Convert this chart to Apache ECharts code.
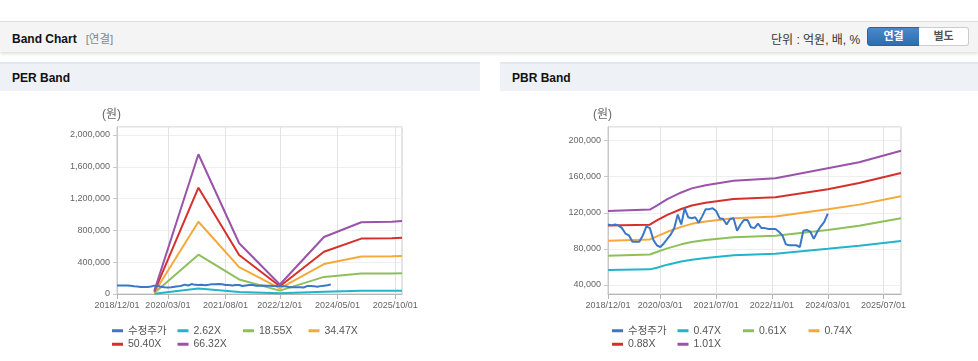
<!DOCTYPE html>
<html><head><meta charset="utf-8">
<script src="https://cdn.jsdelivr.net/npm/echarts@6/dist/echarts.min.js"></script>
<style>
html,body{margin:0;padding:0;width:978px;height:361px;overflow:hidden;background:#fff;font-family:Arial,'Liberation Sans','Noto Sans CJK KR',sans-serif;}
#hdr{position:absolute;left:0;top:21px;width:978px;height:30px;background:#f4f4f4;border-top:1px solid #dcdcdc;box-shadow:0 2px 3px rgba(0,0,0,0.13);}
#hdr .t{position:absolute;left:12px;top:8px;font-size:12px;font-weight:bold;color:#111;}
#hdr .t span{font-weight:normal;color:#7d8794;font-size:11.5px;margin-left:9px;}
#hdr .u{position:absolute;left:771px;top:8px;font-size:12px;color:#333;}
.btn{position:absolute;top:5px;height:17px;line-height:17px;font-size:11px;font-weight:bold;text-align:center;}
#b1{left:867px;width:51px;background:linear-gradient(#4a88cc,#2f6db2);color:#fff;border:1px solid #2a62a0;border-radius:3px 0 0 3px;}
#b2{left:919px;width:49px;background:#fff;color:#555;border:1px solid #ccc;border-left:none;border-radius:0 3px 3px 0;}
.sec{position:absolute;top:62px;height:27px;background:#eef1f6;border-top:2px solid #e4e7ec;}
.sec span{position:absolute;left:12px;top:7px;font-size:12px;font-weight:bold;color:#111;}
#chart{position:absolute;left:0;top:0;width:978px;height:361px;}
</style></head>
<body>
<div id="hdr"><div class="t">Band Chart<span>[연결]</span></div><div class="u">단위 : 억원, 배, %</div><div class="btn" id="b1">연결</div><div class="btn" id="b2">별도</div></div>
<div class="sec" style="left:0;width:480px;"><span>PER Band</span></div>
<div class="sec" style="left:500px;width:478px;"><span>PBR Band</span></div>
<div id="chart"></div>
<script>
const months = ['2018/12/01',
'2019/01/01','2019/02/01','2019/03/01','2019/04/01','2019/05/01','2019/06/01','2019/07/01','2019/08/01','2019/09/01','2019/10/01','2019/11/01','2019/12/01',
'2020/01/01','2020/02/01','2020/03/01','2020/04/01','2020/05/01','2020/06/01','2020/07/01','2020/08/01','2020/09/01','2020/10/01','2020/11/01','2020/12/01',
'2021/01/01','2021/02/01','2021/03/01','2021/04/01','2021/05/01','2021/06/01','2021/07/01','2021/08/01','2021/09/01','2021/10/01','2021/11/01','2021/12/01',
'2022/01/01','2022/02/01','2022/03/01','2022/04/01','2022/05/01','2022/06/01','2022/07/01','2022/08/01','2022/09/01','2022/10/01','2022/11/01','2022/12/01',
'2023/01/01','2023/02/01','2023/03/01','2023/04/01','2023/05/01','2023/06/01','2023/07/01','2023/08/01','2023/09/01','2023/10/01','2023/11/01','2023/12/01',
'2024/01/01','2024/02/01','2024/03/01','2024/04/01','2024/05/01','2024/06/01','2024/07/01','2024/08/01','2024/09/01','2024/10/01','2024/11/01','2024/12/01',
'2025/01/01','2025/02/01','2025/03/01','2025/04/01','2025/05/01','2025/06/01','2025/07/01','2025/08/01','2025/09/01','2025/10/01','2025/11/01','2025/12/01'];

const perTickDates = ['2018/12/01','2020/03/01','2021/08/01','2022/12/01','2024/05/01','2025/10/01'];
const pbrTickDates = ['2018/12/01','2020/03/01','2021/07/01','2022/11/01','2024/03/01','2025/07/01'];
const perYTicks = [0,400000,800000,1200000,1600000,2000000];
const pbrYTicks = [40000,80000,120000,160000,200000];

// 수정주가 (adjusted price), monthly from 2018/12
const priceAdj = [107000,106000,107000,106000,103000,97000,95000,88000,88000,88000,95000,105000,103000,90000,84000,82000,
86000,91000,96000,103000,118000,107000,125000,115000,114000,115000,109000,116000,124000,124000,125000,122000,
114000,113000,107000,113000,114000,100000,107000,112000,112000,104000,103000,108000,103000,103000,102000,102000,
102000,99000,95000,85000,84000,84000,84000,82000,100000,101000,99000,91000,99000,105000,110000,119000];

// PER band lines (key points)
const per262 = [['2019/11/01',2000],['2020/12/01',70000],['2021/12/01',25000],['2022/12/01',8000],['2024/01/01',29000],['2024/12/01',40000],['2025/09/01',40000],['2025/12/01',42000]];
const per1855 = [['2019/11/01',12000],['2020/12/01',494000],['2021/12/01',183000],['2022/12/01',42000],['2024/01/01',215000],['2024/12/01',258000],['2025/09/01',258000],['2025/12/01',260000]];
const per3447 = [['2019/11/01',20000],['2020/12/01',909000],['2021/12/01',338000],['2022/12/01',72000],['2024/01/01',377000],['2024/12/01',472000],['2025/09/01',474000],['2025/12/01',478000]];
const per5040 = [['2019/11/01',30000],['2020/12/01',1337000],['2021/12/01',490000],['2022/12/01',97000],['2024/01/01',532000],['2024/12/01',697000],['2025/09/01',700000],['2025/12/01',708000]];
const per6632 = [['2019/11/01',40000],['2020/12/01',1757000],['2021/12/01',638000],['2022/12/01',120000],['2024/01/01',717000],['2024/12/01',902000],['2025/09/01',908000],['2025/12/01',918000]];

// PBR band lines (key points)
const pbrDates = ['2018/12/01','2019/12/01','2020/02/01','2020/05/01','2020/09/01','2020/12/01','2021/04/01','2021/12/01','2022/12/01','2024/03/01','2024/12/01','2025/12/01'];
const pbr047 = [56700,57300,59000,62500,66000,68000,70000,72800,74500,80000,83500,88600];
const pbr061 = [72500,73800,76500,80500,85000,87500,89800,92800,94500,100800,105500,113800];
const pbr074 = [89000,90500,93800,98900,104400,107700,110300,114000,115900,124000,129000,138400];
const pbr088 = [105800,106800,111500,117600,124200,128000,131100,135300,137300,146000,153000,164000];
const pbr101 = [122000,123500,128000,135000,142500,147000,150500,155500,158200,169300,176000,188600];

const C = {blue:'#3a77c6', cyan:'#22b5c9', green:'#8dc05a', orange:'#f4a93a', red:'#d5302b', purple:'#9953a9'};
const FONT = "Arial, 'Liberation Sans', 'Noto Sans CJK KR', sans-serif";
const pair = (dates, vals) => dates.map((d, i) => [d, vals[i]]);
const fmt = v => v.toLocaleString('en-US');

function xAxisFor(gi, ticks) {
  const show = (i, v) => ticks.indexOf(months[i]) >= 0;
  return {type:'category', gridIndex:gi, data:months, boundaryGap:false,
    axisLine:{lineStyle:{color:'#b5b5b5'}},
    axisTick:{show:true, interval:show, length:5, lineStyle:{color:'#b5b5b5'}},
    axisLabel:{interval:show, color:'#666', fontSize:9, fontFamily:FONT, margin:7},
    splitLine:{show:true, interval:show, lineStyle:{color:'#e3e3e3'}}};
}
function yAxisBase(gi) {
  return {type:'value', gridIndex:gi, name:'(원)', nameGap:6,
    nameTextStyle:{color:'#666', fontSize:12, fontFamily:FONT, align:'center', padding:[0,11,0,0]},
    axisLine:{show:true, lineStyle:{color:'#c8c8c8'}},
    axisTick:{show:true, length:4, lineStyle:{color:'#c8c8c8'}},
    axisLabel:{color:'#666', fontSize:9, fontFamily:FONT, margin:7, formatter:fmt},
    splitLine:{show:true, lineStyle:{color:'#efefef'}}};
}
const yPer = Object.assign(yAxisBase(0), {min:perYTicks[0], max:2100000, interval:perYTicks[1]-perYTicks[0]});
yPer.axisLabel.showMaxLabel = false;
const pbrStep = pbrYTicks[1]-pbrYTicks[0];
const yPbr = Object.assign(yAxisBase(1), {min:30000, max:215000, minInterval:pbrStep, maxInterval:pbrStep});
yPbr.axisLabel.showMaxLabel = false;
yPbr.axisLabel.showMinLabel = false;

function line(name, data, color, xi) {
  return {type:'line', name, data, xAxisIndex:xi, yAxisIndex:xi, showSymbol:false, symbol:'none',
    lineStyle:{width:2, color}, itemStyle:{color}, emphasis:{disabled:true}};
}
function legendFor(left, names) {
  return {left, top:319, width:270, orient:'horizontal', icon:'rect', itemWidth:11, itemHeight:3, itemGap:0,
    textStyle:{fontSize:10.5, color:'#555', fontFamily:FONT, width:49.5, lineHeight:13.5}, data:names};
}

const chart = echarts.init(document.getElementById('chart'), null, {renderer:'canvas'});
chart.setOption({
  animation:false,
  grid:[
    {left:117, top:127, width:285, height:167, show:true, borderColor:'#c8c8c8', borderWidth:1, backgroundColor:'transparent'},
    {left:608, top:127, width:293, height:167, show:true, borderColor:'#c8c8c8', borderWidth:1, backgroundColor:'transparent'}
  ],
  xAxis:[xAxisFor(0, perTickDates), xAxisFor(1, pbrTickDates)],
  yAxis:[yPer, yPbr],
  legend:[
    legendFor(107, ['수정주가','2.62X','18.55X','34.47X','50.40X','66.32X']),
    legendFor(607, ['수정주가','0.47X','0.61X','0.74X','0.88X','1.01X'])
  ],
  series:[
    line('2.62X', per262, C.cyan, 0),
    line('18.55X', per1855, C.green, 0),
    line('34.47X', per3447, C.orange, 0),
    line('50.40X', per5040, C.red, 0),
    line('66.32X', per6632, C.purple, 0),
    line('수정주가', priceAdj, C.blue, 0),
    line('0.47X', pair(pbrDates, pbr047), C.cyan, 1),
    line('0.61X', pair(pbrDates, pbr061), C.green, 1),
    line('0.74X', pair(pbrDates, pbr074), C.orange, 1),
    line('0.88X', pair(pbrDates, pbr088), C.red, 1),
    line('1.01X', pair(pbrDates, pbr101), C.purple, 1),
    line('수정주가', priceAdj, C.blue, 1)
  ]
});
</script>
</body></html>
